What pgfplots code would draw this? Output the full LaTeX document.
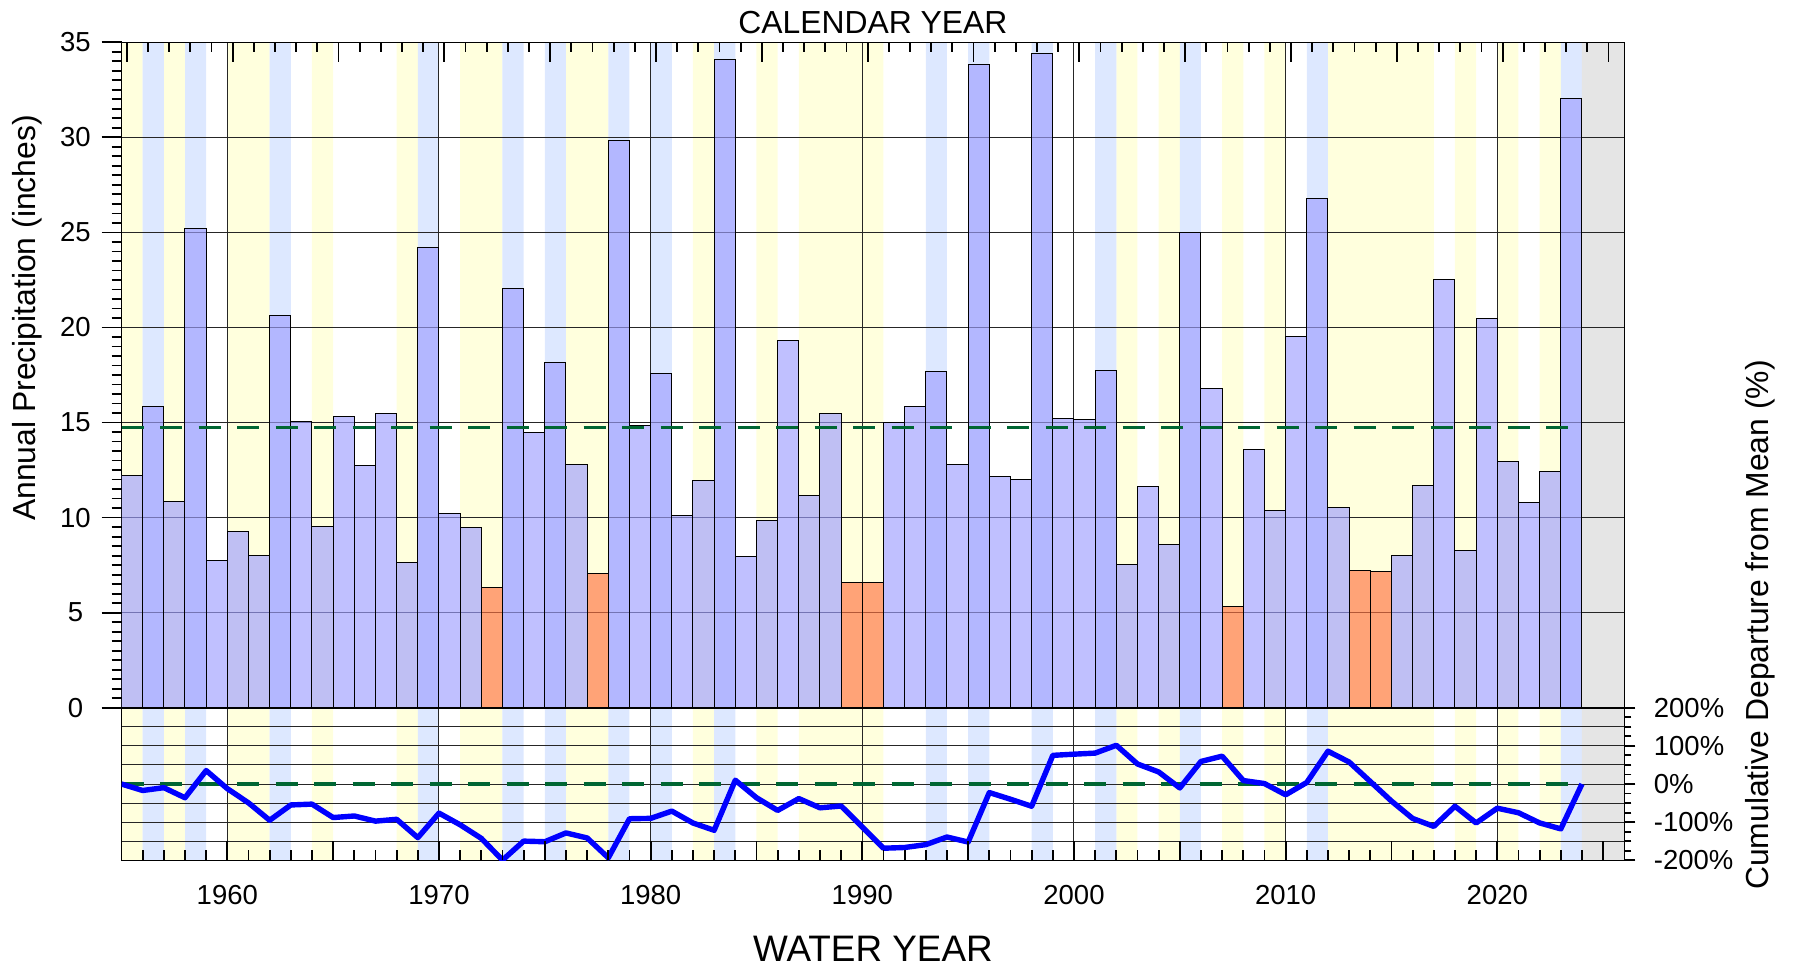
\documentclass[border=0pt]{standalone}
\usepackage{pgfplots}
\pgfplotsset{compat=1.18}
\usepackage{pgfplotstable}
\usepackage{fontspec}
\setmainfont{Liberation Sans}

\definecolor{bandyellow}{RGB}{255,255,221}
\definecolor{bandblue}{RGB}{221,232,255}
\definecolor{bandgray}{RGB}{229,229,229}
\definecolor{barblue}{RGB}{158,158,255}
\definecolor{barorange}{RGB}{255,115,65}
\definecolor{meangreen}{RGB}{0,102,51}

% annual precipitation, bars centred at year+0.5
\pgfplotstableread{
x p
1955.5 12.23
1956.5 15.82
1957.5 10.86
1958.5 25.23
1959.5 7.74
1960.5 9.26
1961.5 8.02
1962.5 20.64
1963.5 15.06
1964.5 9.55
1965.5 15.34
1966.5 12.74
1967.5 15.45
1968.5 7.65
1969.5 24.21
1970.5 10.23
1971.5 9.49
1973.5 22.07
1974.5 14.50
1975.5 18.15
1976.5 12.78
1978.5 29.83
1979.5 14.87
1980.5 17.56
1981.5 10.13
1982.5 11.93
1983.5 34.08
1984.5 7.97
1985.5 9.83
1986.5 19.31
1987.5 11.16
1988.5 15.45
1991.5 15.01
1992.5 15.85
1993.5 17.68
1994.5 12.79
1995.5 33.85
1996.5 12.16
1997.5 12.02
1998.5 34.39
1999.5 15.20
2000.5 15.15
2001.5 17.76
2002.5 7.51
2003.5 11.65
2004.5 8.56
2005.5 24.98
2006.5 16.78
2008.5 13.58
2009.5 10.39
2010.5 19.50
2011.5 26.81
2012.5 10.55
2015.5 8.02
2016.5 11.67
2017.5 22.52
2018.5 8.28
2019.5 20.45
2020.5 12.97
2021.5 10.81
2022.5 12.44
2023.5 32.06
}\bluebars

\pgfplotstableread{
x p
1972.5 6.33
1977.5 7.07
1989.5 6.60
1990.5 6.56
2007.5 5.31
2013.5 7.21
2014.5 7.18
}\orangebars

% cumulative departure from mean (%)
\pgfplotstableread{
x d
1955 0
1956 -17.0
1957 -9.6
1958 -36.0
1959 35.3
1960 -12.2
1961 -49.4
1962 -95.0
1963 -54.9
1964 -52.7
1965 -87.9
1966 -83.8
1967 -97.3
1968 -92.5
1969 -140.6
1970 -76.3
1971 -106.9
1972 -142.5
1973 -199.5
1974 -149.7
1975 -151.3
1976 -128.2
1977 -141.4
1978 -193.5
1979 -91.0
1980 -90.1
1981 -71.0
1982 -102.2
1983 -121.3
1984 10.0
1985 -35.9
1986 -69.2
1987 -38.2
1988 -62.4
1989 -57.6
1990 -112.8
1991 -168.3
1992 -166.4
1993 -158.9
1994 -138.9
1995 -152.1
1996 -22.4
1997 -39.9
1998 -58.3
1999 75.1
2000 78.2
2001 81.0
2002 101.5
2003 52.5
2004 31.6
2005 -10.3
2006 59.2
2007 73.0
2008 9.1
2009 1.2
2010 -28.3
2011 4.1
2012 86.0
2013 57.6
2014 6.5
2015 -44.8
2016 -90.3
2017 -111.1
2018 -58.3
2019 -102.1
2020 -63.4
2021 -75.3
2022 -102.0
2023 -117.6
2024 0
}\dep

% background bands
\pgfplotstableread{
x top up dn
1955.5 35 200 -200
1957.5 35 200 -200
1960.5 35 200 -200
1961.5 35 200 -200
1964.5 35 200 -200
1968.5 35 200 -200
1971.5 35 200 -200
1972.5 35 200 -200
1976.5 35 200 -200
1977.5 35 200 -200
1982.5 35 200 -200
1985.5 35 200 -200
1987.5 35 200 -200
1988.5 35 200 -200
1989.5 35 200 -200
1990.5 35 200 -200
2002.5 35 200 -200
2004.5 35 200 -200
2007.5 35 200 -200
2009.5 35 200 -200
2012.5 35 200 -200
2013.5 35 200 -200
2014.5 35 200 -200
2015.5 35 200 -200
2016.5 35 200 -200
2018.5 35 200 -200
2020.5 35 200 -200
2022.5 35 200 -200
}\yellowbands

\pgfplotstableread{
x top up dn
1956.5 35 200 -200
1958.5 35 200 -200
1962.5 35 200 -200
1969.5 35 200 -200
1973.5 35 200 -200
1975.5 35 200 -200
1978.5 35 200 -200
1980.5 35 200 -200
1983.5 35 200 -200
1993.5 35 200 -200
1995.5 35 200 -200
1998.5 35 200 -200
2001.5 35 200 -200
2005.5 35 200 -200
2011.5 35 200 -200
2023.5 35 200 -200
}\bluebands

\pgfplotstableread{
x top up dn
2024.5 35 200 -200
2025.5 35 200 -200
}\graybands

\pgfplotsset{
  base/.style={scale only axis, width=751.4bp, xmin=1955, xmax=2026, at={(60.75bp,-353.85bp)}},
  topp/.style={base, anchor=south west, height=332.7bp, ymin=0, ymax=35},
  botp/.style={base, anchor=north west, height=76.3bp, ymin=-200, ymax=200},
  tickonly/.style={axis line style={draw=none}, xticklabels={}, yticklabels={}, tick style={black, line width=0.9bp}},
  band/.style={ybar, bar width=1, bar shift=0pt, draw=none, fill=#1},
  mainax/.style={major tick length=0pt, minor tick length=0pt,
    grid style={black!85, line width=0.5bp},
    axis line style={black, line width=0.8bp},
    /pgf/number format/1000 sep={}, /pgf/number format/assume math mode=true},
}

\begin{document}
\begin{tikzpicture}
\useasboundingbox (0,0) rectangle (896.5bp,-484.5bp);

% ---------- top panel ----------
\begin{axis}[topp, hide axis]
\addplot[band=bandyellow] table[x=x,y=top]{\yellowbands};
\addplot[band=bandblue] table[x=x,y=top]{\bluebands};
\addplot[band=bandgray] table[x=x,y=top]{\graybands};
\end{axis}

\begin{axis}[topp, mainax,
  xtick={1960,1970,...,2020}, xticklabels={}, xmajorgrids,
  ytick={0,5,...,35}, ymajorgrids, ytick pos=left,
  yticklabel style={anchor=center, inner sep=0pt, xshift=-23bp, font=\fontsize{13.8}{14}\selectfont}]
\addplot[ybar, bar width=1, bar shift=0pt, fill=barblue, fill opacity=0.65, draw=black, line width=0.5bp] table[x=x,y=p]{\bluebars};
\addplot[ybar, bar width=1, bar shift=0pt, fill=barorange, fill opacity=0.65, draw=black, line width=0.5bp] table[x=x,y=p]{\orangebars};
\addplot[meangreen, line width=1.8bp, dash pattern=on 11bp off 8.25bp] coordinates {(1955,14.74) (2024,14.74)};
\end{axis}

% calendar-year ticks on top edge
\begin{axis}[base, anchor=south west, height=332.7bp, xmin=1954.75, xmax=2025.75, ymin=0, ymax=35,
  tickonly, ytick=\empty, xtick={1955,1960,...,2025}, minor x tick num=4,
  xtick pos=right, tick align=inside, major tick length=10bp, minor tick length=5bp]
\end{axis}

% left y ticks
\begin{axis}[topp, tickonly, xtick=\empty, ytick={0,5,...,35}, minor y tick num=9,
  ytick pos=left, tick align=outside, major tick length=10bp, minor tick length=5bp]
\end{axis}

% ---------- bottom panel ----------
\begin{axis}[botp, hide axis]
\addplot[band=bandyellow] table[x=x,y=up]{\yellowbands};
\addplot[band=bandyellow] table[x=x,y=dn]{\yellowbands};
\addplot[band=bandblue] table[x=x,y=up]{\bluebands};
\addplot[band=bandblue] table[x=x,y=dn]{\bluebands};
\addplot[band=bandgray] table[x=x,y=up]{\graybands};
\addplot[band=bandgray] table[x=x,y=dn]{\graybands};
\end{axis}

\begin{axis}[botp, mainax,
  xtick={1960,1970,...,2020}, xmajorgrids, xtick pos=left,
  ytick={-200,-150,...,200}, ymajorgrids, ytick pos=right, yticklabel pos=right,
  yticklabels={-200\%,{},-100\%,{},0\%,{},100\%,{},200\%},
  xticklabel style={anchor=north, inner sep=0pt, yshift=-12.3bp, font=\fontsize{13.8}{14}\selectfont},
  yticklabel style={anchor=west, inner sep=0pt, xshift=14.6bp, font=\fontsize{13.8}{14}\selectfont}]
\addplot[meangreen, line width=1.8bp, dash pattern=on 11bp off 8.25bp] coordinates {(1955,0) (2024,0)};
\addplot[blue, line width=2.7bp, line join=round] table[x=x,y=d]{\dep};
\end{axis}

\begin{axis}[botp, tickonly, ytick=\empty, xtick={1955,1960,...,2025}, minor x tick num=4,
  xtick pos=left, tick align=inside, major tick length=9.5bp, minor tick length=5bp]
\end{axis}

\begin{axis}[botp, tickonly, xtick=\empty, ytick={-200,-100,...,200}, minor y tick num=3,
  ytick pos=right, tick align=outside, major tick length=5.5bp, minor tick length=3.5bp]
\end{axis}

% ---------- titles ----------
\node[rotate=90, font=\fontsize{16}{18}\selectfont] at (13.75bp,-159bp) {Annual Precipitation (inches)};
\node[rotate=90, font=\fontsize{16}{18}\selectfont] at (880bp,-312.5bp) {Cumulative Departure from Mean (\%)};
\node[font=\fontsize{16}{18}\selectfont] at (436.45bp,-11.45bp) {CALENDAR YEAR};
\node[font=\fontsize{18.5}{20}\selectfont] at (436.45bp,-474.5bp) {WATER YEAR};
\end{tikzpicture}
\end{document}
